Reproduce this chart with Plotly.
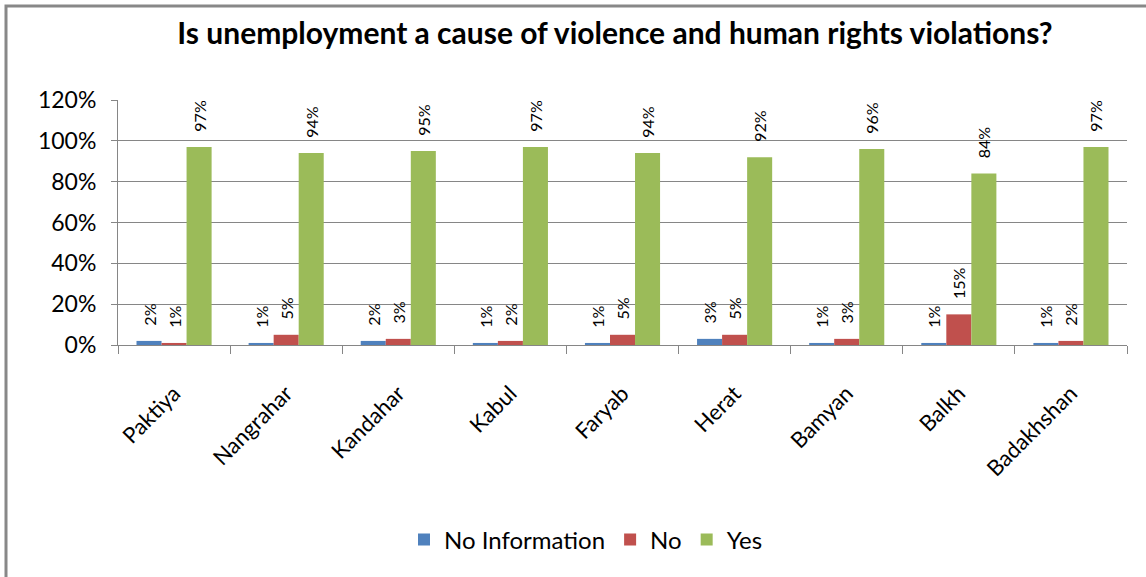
import plotly.graph_objects as go

provinces = ["Paktiya", "Nangrahar", "Kandahar", "Kabul", "Faryab", "Herat", "Bamyan", "Balkh", "Badakhshan"]
no_information = [2, 1, 2, 1, 1, 3, 1, 1, 1]
no = [1, 5, 3, 2, 5, 5, 3, 15, 2]
yes = [97, 94, 95, 97, 94, 92, 96, 84, 97]

series = [
    ("No Information", no_information, "#4F81BD"),
    ("No", no, "#C0504D"),
    ("Yes", yes, "#9BBB59"),
]

FONT = "Lato, 'Open Sans', sans-serif"
PAD = "\u00a0\u00a0\u00a0"

fig = go.Figure()
for name, vals, color in series:
    fig.add_trace(go.Bar(
        name=name, x=provinces, y=vals,
        marker=dict(color=color, line=dict(width=0)),
        text=[f"{PAD}{v}%" for v in vals],
        textposition="outside", textangle=-90, constraintext="none",
        textfont=dict(family=FONT, size=16, color="#000000"),
        cliponaxis=False,
    ))

fig.update_layout(
    width=1146, height=577,
    margin=dict(l=118, r=19, t=100, b=232),
    paper_bgcolor="white", plot_bgcolor="white",
    barmode="group", bargap=0.33, bargroupgap=0,
    title=dict(text="Is unemployment a cause of violence and human rights violations?",
               x=(615 - 118) / 1009, xref="paper", xanchor="center", y=1 - 33 / 577, yanchor="middle",
               font=dict(family=FONT, size=30, color="#000000", weight="bold")),
    font=dict(family=FONT, color="#000000"),
    legend=dict(orientation="h", x=(586 - 118) / 1009, xanchor="center", y=(345 - 540) / 245, yanchor="middle",
                font=dict(family=FONT, size=24, color="#000000"), traceorder="normal",
                itemwidth=30),
    showlegend=True,
)
fig.update_yaxes(
    range=[0, 120], dtick=20, ticksuffix="%",
    showgrid=True, gridcolor="#868686", gridwidth=1,
    showline=True, linecolor="#868686", linewidth=1,
    ticks="outside", ticklen=6, tickcolor="#868686",
    ticklabelstandoff=10,
    tickfont=dict(family=FONT, size=23, color="#000000"),
    zeroline=False,
)
fig.update_xaxes(
    showline=True, linecolor="#868686", linewidth=1,
    ticks="outside", ticklen=8, tickcolor="#868686", tickson="boundaries",
    tickangle=-45, ticklabelstandoff=26,
    tickfont=dict(family=FONT, size=22, color="#000000"),
)
fig.add_shape(type="rect", xref="paper", yref="paper",
              x0=(6 - 118) / 1009, x1=2.0, y0=-2.0, y1=(345 - 6) / 245,
              line=dict(color="#888888", width=3), fillcolor="rgba(0,0,0,0)", layer="below")

fig.write_html("out.html", config={"displayModeBar": False},
               post_script="document.body.style.margin='0px';")
